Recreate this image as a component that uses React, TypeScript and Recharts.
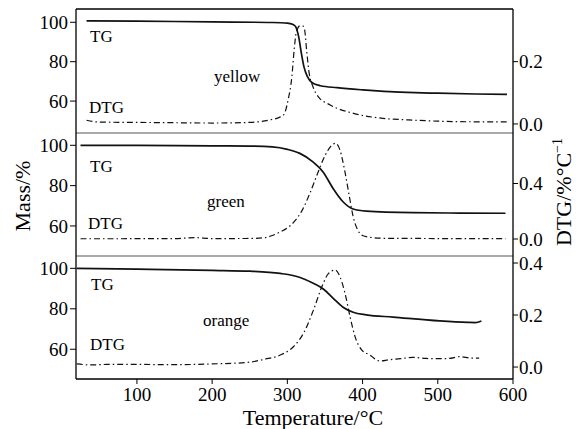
import { ComposedChart, Line, XAxis, YAxis, ReferenceLine } from "recharts";

const FONT = "'Liberation Serif', 'Times New Roman', serif";

// temperature ticks
const tempTicks = [100, 200, 300, 400, 500, 600];
const massTicks = [60, 80, 100];

// yellow sample
const yellowTgT = [33, 100, 200, 280, 300, 304, 308, 311, 315, 318.6, 322, 326.7, 333, 344, 366, 400, 436, 470, 500, 550, 592];
const yellowTg = [100.7, 100.6, 100.2, 99.9, 99.6, 99.3, 98.8, 97.8, 92.7, 84.4, 77.5, 72.4, 69.3, 67.8, 66.8, 65.7, 64.8, 64.3, 64, 63.6, 63.4];
const yellowDtgT = [33, 50, 100, 150, 200, 250, 277, 290, 295, 301, 306, 309, 312, 317, 321, 323, 325.6, 329, 334, 341, 357, 388, 427, 461, 500, 550, 592];
const yellowDtg = [0.012, 0.006, 0.005, 0.004, 0.003, 0.005, 0.013, 0.022, 0.029, 0.077, 0.152, 0.237, 0.296, 0.315, 0.314, 0.302, 0.237, 0.163, 0.12, 0.088, 0.061, 0.034, 0.018, 0.013, 0.009, 0.007, 0.007];

// green sample
const greenTgT = [25, 100, 200, 250, 280, 300, 316.6, 334, 347.5, 360.8, 374, 387.5, 405, 467, 530, 590];
const greenTg = [100, 100, 99.7, 99.6, 99.2, 98.0, 96.0, 91.8, 86.8, 78.6, 72, 68.4, 67.4, 66.6, 66.4, 66.3];
const greenDtgT = [25, 80, 150, 177, 200, 250, 270, 280, 290, 300, 310, 320, 330, 340, 350, 358, 364, 370, 376, 382, 388, 394, 400, 410, 430, 470, 530, 590];
const greenDtg = [0.002, 0.002, 0.003, 0.01, 0.003, 0.004, 0.01, 0.025, 0.05, 0.08, 0.13, 0.21, 0.33, 0.47, 0.6, 0.67, 0.69, 0.64, 0.5, 0.32, 0.15, 0.06, 0.025, 0.012, 0.005, 0.004, 0.003, 0.003];

// orange sample
const orangeTgT = [20, 100, 200, 250, 290.5, 317, 334.5, 347.8, 361, 374, 387.5, 405, 440.6, 502.7, 540, 550, 558];
const orangeTg = [100, 99.6, 99, 98.6, 97.5, 95.5, 92.6, 89.8, 85.2, 80.8, 78.3, 77, 75.9, 74, 73.3, 73.2, 74];
const orangeDtgT = [20, 40, 60, 100, 150, 200, 244, 270, 290.5, 308, 321.5, 334.8, 346, 354.8, 363.6, 370, 376.7, 383.4, 390, 399, 410, 418.7, 423, 435, 450, 467, 485, 498, 515, 529, 545, 555];
const orangeDtg = [0.012, 0.008, 0.01, 0.01, 0.009, 0.012, 0.017, 0.03, 0.046, 0.078, 0.13, 0.22, 0.31, 0.36, 0.373, 0.347, 0.283, 0.193, 0.117, 0.065, 0.046, 0.027, 0.023, 0.028, 0.032, 0.037, 0.033, 0.032, 0.033, 0.04, 0.034, 0.034];

type Row = { t: number; tg?: number; dtg?: number };

function merge(tgT: number[], tg: number[], dT: number[], d: number[]): Row[] {
  const rows: Row[] = [];
  tgT.forEach((t, i) => rows.push({ t, tg: tg[i] }));
  dT.forEach((t, i) => rows.push({ t, dtg: d[i] }));
  return rows.sort((a, b) => a.t - b.t);
}

const labelStyle = { fontSize: 19, fontFamily: FONT, fill: "#000" };

const LeftTick = (p: any) => (
  <text x={p.x} y={p.y} dy="0.35em" textAnchor="end" fontFamily={FONT} style={labelStyle}>
    {p.payload.value}
  </text>
);
const RightTick = (p: any) => (
  <text x={p.x} y={p.y} dy="0.35em" textAnchor="start" fontFamily={FONT} style={labelStyle}>
    {Number(p.payload.value).toFixed(1)}
  </text>
);
const BottomTick = (p: any) => (
  <text x={p.x} y={p.y} dy="0.78em" textAnchor="middle" fontFamily={FONT} style={labelStyle}>
    {p.payload.value}
  </text>
);

type PanelProps = {
  top: number;
  height: number;
  marginTop: number;
  marginBottom: number;
  data: Row[];
  massDomain: [number, number];
  dtgDomain: [number, number];
  dtgTicks: number[];
  showX?: boolean;
  separator?: boolean;
  topBorder?: boolean;
};

// each panel's svg is padded by 10px so tick labels near its edges are not clipped
function Panel({ top, height, marginTop, marginBottom, data, massDomain, dtgDomain, dtgTicks, showX, separator, topBorder }: PanelProps) {
  return (
    <div style={{ position: "absolute", left: 0, top }}>
      <ComposedChart width={583} height={height} data={data} margin={{ top: marginTop, right: 0, bottom: marginBottom, left: 0 }}>
        <XAxis
          dataKey="t"
          type="number"
          domain={[19, 600]}
          allowDataOverflow
          ticks={tempTicks}
          interval={0}
          hide={!showX}
          height={30}
          tick={BottomTick}
          tickSize={5}
          tickMargin={2}
          axisLine={{ stroke: "#000", strokeWidth: 1.3 }}
          tickLine={{ stroke: "#000" }}
        />
        <YAxis
          yAxisId="m"
          type="number"
          domain={massDomain}
          allowDataOverflow
          ticks={massTicks}
          interval={0}
          width={76}
          tick={LeftTick}
          tickSize={6}
          tickMargin={2}
          axisLine={{ stroke: "#000", strokeWidth: 1.3 }}
          tickLine={{ stroke: "#000" }}
        />
        <YAxis
          yAxisId="d"
          orientation="right"
          type="number"
          domain={dtgDomain}
          allowDataOverflow
          ticks={dtgTicks}
          interval={0}
          width={70}
          tick={RightTick}
          tickSize={5}
          tickMargin={1}
          axisLine={{ stroke: "#000", strokeWidth: 1.3 }}
          tickLine={{ stroke: "#000" }}
        />
        {topBorder && <ReferenceLine yAxisId="m" y={massDomain[1]} stroke="#000" strokeWidth={1.3} />}
        {separator && <ReferenceLine yAxisId="m" y={massDomain[0]} stroke="#8c8c8c" strokeWidth={1.5} />}
        <Line
          yAxisId="m"
          dataKey="tg"
          type="monotone"
          stroke="#111"
          strokeWidth={1.7}
          dot={false}
          connectNulls
          isAnimationActive={false}
        />
        <Line
          yAxisId="d"
          dataKey="dtg"
          type="monotone"
          stroke="#111"
          strokeWidth={1.2}
          strokeDasharray="6 3 1.5 3"
          dot={false}
          connectNulls
          isAnimationActive={false}
        />
      </ComposedChart>
    </div>
  );
}

const yellowRows = merge(yellowTgT, yellowTg, yellowDtgT, yellowDtg);
const greenRows = merge(greenTgT, greenTg, greenDtgT, greenDtg);
const orangeRows = merge(orangeTgT, orangeTg, orangeDtgT, orangeDtg);

const noteStyle = { fontSize: 17, fontFamily: FONT, fill: "#000" };
const titleStyle = { fontSize: 22, fontFamily: FONT, fill: "#000" };

export default function App() {
  return (
    <div style={{ position: "fixed", left: 0, top: 0, width: 583, height: 429, background: "#fff", fontFamily: FONT }}>
      <Panel
        top={0}
        height={143}
        marginTop={9}
        marginBottom={10}
        data={yellowRows}
        massDomain={[43.8, 106.75]}
        dtgDomain={[-0.029, 0.369]}
        dtgTicks={[0, 0.2]}
        separator
        topBorder
      />
      <Panel
        top={123}
        height={143}
        marginTop={10}
        marginBottom={10}
        data={greenRows}
        massDomain={[45.1, 106.1]}
        dtgDomain={[-0.1225, 0.764]}
        dtgTicks={[0, 0.4]}
        separator
      />
      <Panel
        top={246}
        height={183}
        marginTop={10}
        marginBottom={20}
        data={orangeRows}
        massDomain={[45.3, 106.1]}
        dtgDomain={[-0.046, 0.427]}
        dtgTicks={[0, 0.2, 0.4]}
        showX
      />
      <svg width={583} height={429} style={{ position: "absolute", left: 0, top: 0, pointerEvents: "none" }}>
        <text x={90} y={42} style={noteStyle}>TG</text>
        <text x={214} y={82} style={noteStyle}>yellow</text>
        <text x={89} y={113} style={noteStyle}>DTG</text>
        <text x={90} y={172} style={noteStyle}>TG</text>
        <text x={207} y={207} style={noteStyle}>green</text>
        <text x={88} y={229} style={noteStyle}>DTG</text>
        <text x={91} y={290} style={noteStyle}>TG</text>
        <text x={203} y={326} style={noteStyle}>orange</text>
        <text x={90} y={350} style={noteStyle}>DTG</text>
        <text x={313} y={425} textAnchor="middle" style={titleStyle}>
          Temperature/°C
        </text>
        <text x={30} y={196} textAnchor="middle" transform="rotate(-90 30 196)" style={titleStyle}>
          Mass/%
        </text>
        <text x={571} y={192} textAnchor="middle" transform="rotate(-90 571 192)" style={titleStyle}>
          DTG/%°C
          <tspan fontSize={14} dy={-9}>−1</tspan>
        </text>
      </svg>
    </div>
  );
}
